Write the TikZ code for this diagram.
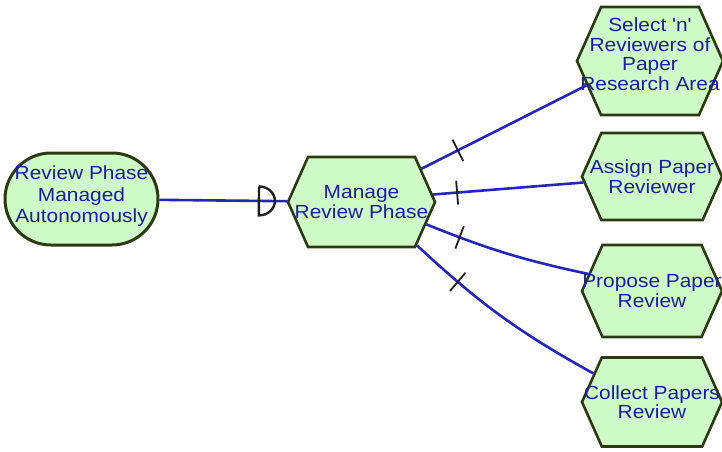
\documentclass[tikz,border=0pt]{standalone}
\usepackage{fontspec}
\newfontfamily\lblfont[FakeStretch=1.1]{Liberation Sans}
\usetikzlibrary{shapes.symbols,shapes.misc,decorations.markings}
\definecolor{nodefill}{RGB}{206,250,200}
\definecolor{edgegreen}{RGB}{44,58,18}
\definecolor{labelblue}{RGB}{28,28,165}
\definecolor{linkblue}{RGB}{36,36,190}
\definecolor{markdark}{RGB}{30,30,30}
% a label line that takes no width, so each outline is set by its size keys alone
\newcommand\tline[1]{\makebox[0pt]{#1}}
\begin{document}
\begin{tikzpicture}[x=1pt,y=-1pt,
  box/.style={draw=edgegreen, line width=2.6pt, fill=nodefill, text=labelblue,
    font=\lblfont\fontsize{19}{19.5}\selectfont, align=center, inner sep=0pt},
  goal/.style={box, rounded rectangle, line width=3pt, minimum width=153pt, minimum height=92pt,
    font=\lblfont\fontsize{19}{21.5}\selectfont},
  task/.style 2 args={box, signal, signal to=west and east, signal pointer angle=132,
    minimum width=#1, minimum height=#2},
  link/.style={draw=linkblue, line width=2.6pt},
  tickline/.style={draw=markdark, line width=1.8pt},
  cut/.style={postaction={decorate, decoration={markings,
    mark=at position #1 with {\draw[tickline] (0,-12pt) -- (0,12pt);}}}},
  joint/.style={postaction={decorate, decoration={markings,
    mark=at position #1 with {\draw[markdark, line width=2.4pt]
      (0,14.5pt) -- (0,-14.5pt) arc[start angle=-90, end angle=90, x radius=16pt, y radius=14.5pt];}}}}
]
\useasboundingbox[fill=white] (0,0) rectangle (722,451);

% goal and tasks
\node[goal, text depth=9pt] (goal) at (81.5,199)
  {\tline{Review Phase}\\\tline{Managed}\\\tline{Autonomously}};
\node[task={147pt}{90pt}] (mid) at (361.5,202) {\tline{Manage}\\\tline{Review Phase}};
\node[task={146pt}{108pt}, text depth=14pt] (c1) at (650,61)
  {\tline{Select 'n'}\\\tline{Reviewers of}\\\tline{Paper}\\\tline{Research Area}};
\node[task={140pt}{87pt}] (c2) at (652,176.5) {\tline{Assign Paper}\\\tline{Reviewer}};
\node[task={140pt}{92pt}] (c3) at (652,291) {\tline{Propose Paper}\\\tline{Review}};
\node[task={140pt}{89pt}] (c4) at (652,402) {\tline{Collect Papers}\\\tline{Review}};

% connectors
\draw[link, joint=-28pt] (goal) -- (mid);
\draw[link, cut=0.22] (mid.29) -- (c1.201);
\draw[link, cut=0.16] (mid.6) -- (c2.185);
\draw[link, cut=0.21] (mid.-19) to[bend right=5] (c3.165);
\draw[link, cut=0.25] (mid.-38) to[bend right=7] (c4.154);
\end{tikzpicture}
\end{document}
